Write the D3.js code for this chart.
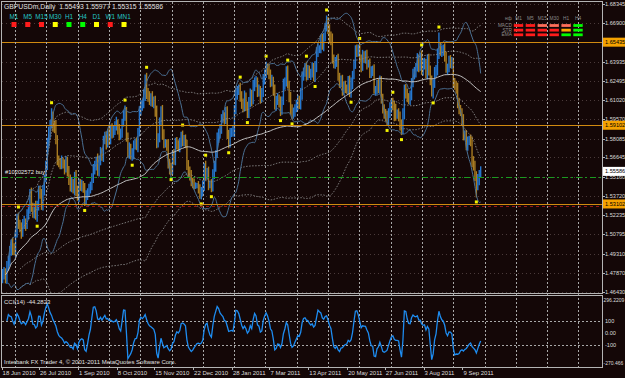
<!DOCTYPE html>
<html><head><meta charset="utf-8">
<script src="https://cdn.jsdelivr.net/npm/d3@7"></script>
<style>html,body{margin:0;padding:0;background:#140707;overflow:hidden}svg{display:block}</style>
</head><body>
<svg id="c" width="625" height="378"></svg>
<script>
// ---------------- DATA ----------------
const symbolTitle = "GBPUSDm,Daily  1.55493 1.55977 1.55315 1.55586";
const firstDate = "2010-06-18";            // first bar (weekday bars)
const firstOpen = 1.4745;
// daily closes, one per weekday bar
const closes = [
1.4780,
1.4790,1.4740,1.4830,1.4880,1.4950, 1.5010,1.4960,1.4950,1.5090,1.5200, 1.5160,1.5130,1.5090,1.5160,1.5170,
1.5150,1.5230,1.5270,1.5380,1.5280, 1.5240,1.5290,1.5220,1.5300,1.5420, 1.5380,1.5300,1.5420,1.5510,1.5600,
1.5780,1.5860,1.5920,1.5960,1.5900, 1.5890,1.5800,1.5650,1.5620,1.5610, 1.5630,1.5620,1.5580,1.5630,1.5560,
1.5500,1.5440,1.5470,1.5420,1.5520, 1.5410,1.5370,1.5470,1.5440,1.5450, 1.5430,1.5340,1.5370,1.5400,1.5430,
1.5450,1.5500,1.5580,1.5600,1.5640, 1.5560,1.5650,1.5700,1.5670,1.5800, 1.5820,1.5770,1.5850,1.5800,1.5880,
1.5850,1.5880,1.5900,1.5920,1.5880, 1.5840,1.5850,1.5930,1.5980,1.6000, 1.5820,1.5700,1.5740,1.5680,1.5690,
1.5760,1.5770,1.5750,1.5860,1.6020, 1.6060,1.6070,1.6140,1.6260,1.6150, 1.6130,1.6100,1.6120,1.6080,1.6100,
1.6010,1.5780,1.5810,1.5940,1.6010, 1.5840,1.5770,1.5770,1.5760,1.5620, 1.5580,1.5570,1.5690,1.5640,1.5780,
1.5760,1.5750,1.5770,1.5830,1.5790, 1.5800,1.5770,1.5600,1.5560,1.5530, 1.5480,1.5470,1.5450,1.5450,1.5450,
1.5420,1.5380,1.5410,1.5440,1.5590, 1.5530,1.5550,1.5460,1.5460,1.5440, 1.5540,1.5600,1.5690,1.5810,1.5850,
1.5880,1.5960,1.5980,1.5960,1.6010, 1.5840,1.5780,1.5850,1.5860,1.5860, 1.6030,1.6150,1.6170,1.6190,1.6130,
1.6080,1.6050,1.6130,1.6050,1.6000, 1.6090,1.6150,1.6100,1.6210,1.6240, 1.6240,1.6160,1.6180,1.6120,1.6160,
1.6260,1.6300,1.6350,1.6340,1.6300, 1.6240,1.6250,1.6180,1.6060,1.6100, 1.6110,1.6090,1.6020,1.6100,1.6220,
1.6240,1.6320,1.6220,1.6130,1.6030, 1.6000,1.6010,1.6040,1.6060,1.6100, 1.6070,1.6150,1.6280,1.6320,1.6350,
1.6290,1.6330,1.6300,1.6310,1.6350, 1.6280,1.6360,1.6460,1.6500,1.6500, 1.6560,1.6520,1.6580,1.6660,1.6700,
1.6640,1.6580,1.6560,1.6410,1.6380, 1.6390,1.6410,1.6280,1.6240,1.6250, 1.6180,1.6210,1.6190,1.6180,1.6250,
1.6160,1.6230,1.6290,1.6380,1.6480, 1.6470,1.6490,1.6420,1.6360,1.6440, 1.6420,1.6440,1.6380,1.6380,1.6310,
1.6320,1.6330,1.6180,1.6180,1.6220, 1.6190,1.6250,1.6120,1.6030,1.6000, 1.5980,1.5940,1.6010,1.6040,1.6080,
1.6060,1.6030,1.5990,1.6000,1.5980, 1.5910,1.5870,1.6000,1.6190,1.6150, 1.6120,1.6110,1.6130,1.6240,1.6300,
1.6310,1.6350,1.6420,1.6360,1.6430, 1.6330,1.6380,1.6380,1.6300,1.6410, 1.6330,1.6250,1.6160,1.6230,1.6310,
1.6330,1.6460,1.6500,1.6470,1.6480, 1.6490,1.6430,1.6340,1.6350,1.6400, 1.6380,1.6390,1.6240,1.6210,1.6190,
1.6080,1.6030,1.6010,1.5950,1.5830, 1.5830,1.5760,1.5790,1.5800,1.5790, 1.5630,1.5600,1.5530,1.5450,1.5493,
1.5530,1.55586];
// upper wick above max(open,close), in pips
const wickUpPips = [
35,
40,30,45,35,40, 30,45,50,25,35, 45,30,40,35,50, 30,40,35,45,55, 40,25,45,35,30, 30,45,35,25,40,
35,40,30,80,55, 45,60,35,30,40, 50,35,30,45,40, 40,35,45,30,35, 50,40,35,30,45, 35,40,45,30,35,
30,45,35,40,30, 55,30,45,35,30, 40,45,30,50,35, 45,30,40,55,35, 40,35,30,45,60, 50,35,40,30,45,
35,40,45,30,35, 40,30,45,38,50, 45,40,35,50,30, 35,50,40,30,45, 55,40,35,30,45, 35,45,30,40,35,
40,35,45,30,40, 35,40,30,45,35, 40,30,35,25,20, 35,40,30,45,30, 50,35,45,30,40, 35,40,30,45,35,
40,35,45,30,40, 45,35,40,30,50, 35,45,40,30,45, 40,35,45,30,40, 35,40,30,45,35, 45,35,40,30,35,
40,35,45,30,40, 35,45,30,40,35, 45,35,40,30,45, 35,40,45,30,35, 40,35,30,45,40, 35,45,40,30,35,
45,40,35,30,40, 35,40,45,35,20, 40,45,35,30,47, 35,40,45,50,40, 40,35,45,30,40, 45,35,40,30,35,
40,45,35,30,40, 45,35,40,30,45, 35,40,45,30,40, 40,35,45,30,35, 45,40,35,30,40, 35,40,30,45,35,
40,35,45,30,40, 35,45,40,30,35, 40,35,45,30,40, 45,35,40,30,35, 50,40,45,35,40, 45,35,40,30,45,
40,35,117,45,40, 35,45,40,30,40, 45,40,35,30,40, 45,40,35,30,45, 40,45,35,30,40, 35,45,40,30,45,
40,39];
// lower wick below min(open,close), in pips
const wickDnPips = [
40,
45,35,40,30,45, 35,40,30,45,35, 40,35,45,30,40, 45,30,40,35,30, 35,40,30,45,40, 30,35,40,45,35,
30,40,45,35,40, 40,35,45,30,35, 35,40,45,30,40, 45,35,40,30,45, 40,35,45,30,35, 35,45,40,30,35,
40,35,30,45,35, 35,40,45,30,40, 35,45,30,40,35, 40,35,45,30,40, 45,40,35,30,35, 35,40,45,30,40,
40,35,30,45,35, 35,40,30,45,40, 40,35,45,30,40, 35,45,40,30,35, 40,35,30,45,40, 45,40,35,30,35,
35,40,45,30,40, 40,35,30,45,40, 35,40,30,25,20, 30,30,35,40,30, 40,35,45,30,40, 35,40,45,30,35,
40,35,30,45,40, 35,45,40,30,35, 40,35,45,30,40, 45,40,35,30,35, 35,40,45,30,40, 40,35,30,45,35,
35,40,30,45,40, 40,35,45,30,40, 35,45,40,30,35, 40,35,30,45,40, 45,40,35,30,35, 35,40,45,30,40,
40,35,30,45,35, 35,40,45,30,40, 40,35,45,30,35, 35,45,40,30,35, 40,35,30,45,40, 45,40,35,30,35,
35,40,45,30,40, 40,35,30,45,35, 35,40,45,30,40, 40,35,30,45,35, 35,40,45,30,40, 40,35,30,45,35,
35,90,45,30,40, 40,35,30,45,35, 35,40,45,30,40, 40,35,30,45,35, 35,40,45,30,40, 40,35,30,45,35,
35,40,45,30,40, 40,35,30,45,35, 35,40,45,30,40, 40,35,30,45,35, 35,40,45,30,40, 40,35,45,90,35,
40,18];

const priceTicks = [1.68345,1.66900,1.65435,1.63935,1.62495,1.61020,1.59570,1.58085,1.56645,1.55160,1.53720,1.52235,1.50795,1.49310,1.47870,1.46430];
const priceRange = [1.46430, 1.68345];
const levelLines = [1.65435, 1.59102, 1.53102];   // orange S/R levels
const orderLevel = 1.55160, orderLabel = "#10202572 buy";
const stopLevel = 1.52920;
const bidPrice = 1.55586;

const dateLabels = ["18 Jun 2010","26 Jul 2010","1 Sep 2010","8 Oct 2010","15 Nov 2010","22 Dec 2010","28 Jan 2011","7 Mar 2011","13 Apr 2011","20 May 2011","27 Jun 2011","3 Aug 2011","9 Sep 2011"];

const cciPeriod = 14;
const cciRange = [-270.466, 296.2209];
const cciTicks = [100, 0, -100];
const cciTitle = "CCI(14) -44.2823";
const footer = "Interbank FX Trader 4, \u00A9 2001-2011 MetaQuotes Software Corp.";

const tfLabels = ["M1","M5","M15","M30","H1","H4","D1","W1","MN1"];
const tfState  = ["red","red","red","yellow","green","green","yellow","red","yellow"];
const tblCols = ["M1","M5","M15","M30","H1","H4"];
const tblRows = ["MACD","STR","EMA"];
const tblState = [
  ["red","red","weak","weak","weak","green"],
  ["red","red","red","red","orange","green"],
  ["red","red","red","red","green","green"]];

// ---------------- LAYOUT ----------------
const L = 2, R = 602, T = 2, MB = 293, CT = 296, CB = 367;
const barStep = 1.44, x0 = 2.6;
const stateColor = {red:"#ff1c1c", yellow:"#ffff00", green:"#00ff00", weak:"#ff6e5a", orange:"#ffa500"};
const FONT = "'Liberation Sans', Arial, sans-serif";

const svg = d3.select("#c");
svg.append("rect").attr("width",625).attr("height",378).attr("fill","#140707");

const n = closes.length;
const opens = closes.map((c,i)=> i===0 ? firstOpen : closes[i-1]);
const highs = closes.map((c,i)=> Math.max(opens[i],c) + wickUpPips[i]/10000);
const lows  = closes.map((c,i)=> Math.min(opens[i],c) - wickDnPips[i]/10000);

const x = d3.scaleLinear().domain([0, n-1]).range([x0, x0 + (n-1)*barStep]);
const y = d3.scaleLinear().domain(priceRange).range([291.5, 4]);
const yc = d3.scaleLinear().domain(cciRange).range([CB-1, CT+1]);

// date -> bar index (weekday count)
const parse = d3.utcParse("%d %b %Y");
const d0 = d3.utcParse("%Y-%m-%d")(firstDate);
function barIndex(d){ return d3.utcDays(d0, d).filter(t=>{const w=t.getUTCDay();return w>0&&w<6;}).length; }

// clip paths
const defs = svg.append("defs");
defs.append("clipPath").attr("id","cm").append("rect").attr("x",L).attr("y",T).attr("width",R-L).attr("height",MB-T);
defs.append("clipPath").attr("id","cc").append("rect").attr("x",L).attr("y",CT).attr("width",R-L).attr("height",CB-CT);

// horizontal faint grid (main)
const gMain = svg.append("g").attr("clip-path","url(#cm)");
gMain.selectAll("line.hg").data(priceTicks).join("line")
  .attr("x1",L).attr("x2",R).attr("y1",d=>Math.round(y(d))+0.5).attr("y2",d=>Math.round(y(d))+0.5)
  .attr("stroke","#4a3a3a").attr("stroke-width",1).attr("stroke-dasharray","1,3");

// vertical dotted grid (both panels)
const gridX = d3.range(0, 19).map(k => 15 + k*31.3);
svg.append("g").selectAll("line").data(gridX).join("line")
  .attr("x1",d=>Math.round(d)+0.5).attr("x2",d=>Math.round(d)+0.5).attr("y1",T).attr("y2",CB)
  .attr("stroke","#a8a8a8").attr("stroke-width",1).attr("stroke-dasharray","2,2");
svg.append("g").selectAll("line").data(cciTicks.filter(v=>v!==0)).join("line")
  .attr("x1",L).attr("x2",R).attr("y1",d=>Math.round(yc(d))+0.5).attr("y2",d=>Math.round(yc(d))+0.5)
  .attr("stroke","#a8a8a8").attr("stroke-width",1).attr("stroke-dasharray","2,2");

// ---------- indicators ----------
function sma(a,p){return a.map((_,i)=>d3.mean(a.slice(Math.max(0,i-p+1),i+1)));}
function sdev(a,p){return a.map((_,i)=>{const w=a.slice(Math.max(0,i-p+1),i+1);const m=d3.mean(w);return Math.sqrt(d3.mean(w,v=>(v-m)*(v-m)));});}
const idx = d3.range(n);
function lineOf(vals, from){ return d3.line().curve(d3.curveMonotoneX).x(i=>x(i)).y(i=>y(vals[i]))(idx.filter(i=>i>=from)); }

// bars
const gBars = gMain.append("g");
gBars.selectAll("line").data(idx).join("line")
  .attr("x1",i=>x(i)).attr("x2",i=>x(i))
  .attr("y1",i=>y(highs[i])).attr("y2",i=>y(lows[i]))
  .attr("stroke",i=> closes[i]>=opens[i] ? "#2577cf" : "#a87c22")
  .attr("stroke-width",1.4);

// long channel: SMA(100) with +-1 and +-2 deviation dotted lines
const m100 = sma(closes,100), s100 = sdev(closes,100);
[2,1,-1,-2].forEach(k=>{
  gMain.append("path").attr("d",lineOf(closes.map((_,i)=>m100[i]+k*s100[i]),12))
    .attr("fill","none").attr("stroke","#8a8a8a").attr("stroke-width",0.9).attr("stroke-dasharray","1.5,1.5");
});
// Bollinger 20,2
const m20 = sma(closes,20), s20 = sdev(closes,20);
[2,-2].forEach(k=>{
  gMain.append("path").attr("d",lineOf(closes.map((_,i)=>m20[i]+k*s20[i]),4))
    .attr("fill","none").attr("stroke","#4a7094").attr("stroke-width",1);
});
// white MA (100)
gMain.append("path").attr("d",lineOf(m100,2)).attr("fill","none").attr("stroke","#c4c4c4").attr("stroke-width",1);

// fractals
const fw = 5, frUp = [], frDn = [];
for(let i=fw;i<n-2;i++){
  let up=true, dn=true;
  for(let j=1;j<=fw;j++){
    if(!(highs[i]>highs[i-j]&&(i+j>=n||highs[i]>=highs[i+j]))) up=false;
    if(!(lows[i]<lows[i-j]&&(i+j>=n||lows[i]<=lows[i+j]))) dn=false;
  }
  if(up) frUp.push(i); if(dn) frDn.push(i);
}
gMain.append("g").selectAll("rect.fu").data(frUp).join("rect")
  .attr("x",i=>x(i)-1.5).attr("y",i=>y(highs[i])-7).attr("width",3).attr("height",3).attr("fill","#f2f200");
gMain.append("g").selectAll("rect.fd").data(frDn).join("rect")
  .attr("x",i=>x(i)-1.5).attr("y",i=>y(lows[i])+3).attr("width",3).attr("height",3).attr("fill","#f2f200");

// level lines
gMain.selectAll("line.lv").data(levelLines).join("line")
  .attr("x1",L).attr("x2",R).attr("y1",d=>Math.round(y(d))+0.5).attr("y2",d=>Math.round(y(d))+0.5)
  .attr("stroke","#d08a10").attr("stroke-width",1);
gMain.append("line").attr("x1",L).attr("x2",R).attr("y1",Math.round(y(orderLevel))+0.5).attr("y2",Math.round(y(orderLevel))+0.5)
  .attr("stroke","#1a9a1f").attr("stroke-width",1.2).attr("stroke-dasharray","6,3,2,3");
gMain.append("line").attr("x1",L).attr("x2",R).attr("y1",Math.round(y(stopLevel))+0.5).attr("y2",Math.round(y(stopLevel))+0.5)
  .attr("stroke","#961818").attr("stroke-width",1).attr("stroke-dasharray","3,3");
svg.append("text").attr("x",5).attr("y",y(orderLevel)-3).text(orderLabel)
  .attr("fill","#e8e8e8").attr("font-family",FONT).attr("font-size",5.8);

// CCI
const tp = idx.map(i=>(highs[i]+lows[i]+closes[i])/3);
const tpMa = sma(tp,cciPeriod);
const cci = idx.map(i=>{const w=tp.slice(Math.max(0,i-cciPeriod+1),i+1);const md=d3.mean(w,v=>Math.abs(v-tpMa[i]));return md>0?(tp[i]-tpMa[i])/(0.015*md):0;});
svg.append("g").attr("clip-path","url(#cc)").append("path")
  .attr("d",d3.line().x(i=>x(i)).y(i=>yc(Math.max(cciRange[0],Math.min(cciRange[1],cci[i]))))(idx.filter(i=>i>=3)))
  .attr("fill","none").attr("stroke","#1e8cf0").attr("stroke-width",1.3);

// frames
const fr = svg.append("g").attr("fill","none").attr("stroke","#b4b4b4").attr("stroke-width",1);
fr.append("rect").attr("x",L-0.5).attr("y",T-0.5).attr("width",R-L+1).attr("height",MB-T+1);
fr.append("rect").attr("x",L-0.5).attr("y",CT-0.5).attr("width",R-L+1).attr("height",CB-CT+1);

// price axis labels
const ga = svg.append("g").attr("font-family",FONT).attr("font-size",5.6);
ga.selectAll("line").data(priceTicks).join("line")
  .attr("x1",R).attr("x2",R+3).attr("y1",d=>Math.round(y(d))+0.5).attr("y2",d=>Math.round(y(d))+0.5).attr("stroke","#b4b4b4");
ga.selectAll("text").data(priceTicks).join("text")
  .attr("x",605).attr("y",d=>y(d)+2).text(d=>d.toFixed(5)).attr("fill","#dcdcdc");
// level label boxes
const boxes = levelLines.map(v=>({v,bg:"#f5a200",fg:"#000"})).concat([{v:bidPrice,bg:"#ffffff",fg:"#000"}]);
const gb = svg.append("g").attr("font-family",FONT).attr("font-size",5.6);
gb.selectAll("rect").data(boxes).join("rect").attr("x",603).attr("y",d=>y(d.v)-4.5).attr("width",22).attr("height",9).attr("fill",d=>d.bg);
gb.selectAll("text").data(boxes).join("text").attr("x",605).attr("y",d=>y(d.v)+2).text(d=>d.v.toFixed(5)).attr("fill",d=>d.fg);

// CCI axis labels
const cciLbl = [cciRange[1],100,0,-100,cciRange[0]];
const gca = svg.append("g").attr("font-family",FONT).attr("fill","#dcdcdc");
gca.selectAll("text").data(cciLbl).join("text").attr("x",d=> (d===cciRange[1]||d===cciRange[0]) ? 603.5 : 605)
  .attr("font-size",d=> (d===cciRange[1]||d===cciRange[0]) ? 5.0 : 5.6)
  .attr("y",d=> d===cciRange[1] ? CT+5.5 : d===cciRange[0] ? CB-2 : yc(d)+2)
  .text(d=> d===cciRange[1] ? "296.2209" : d===cciRange[0] ? "-270.466" : d===0 ? "0.00" : String(d));

// date labels
const gd = svg.append("g").attr("font-family",FONT).attr("font-size",6).attr("fill","#dcdcdc");
gd.selectAll("text").data(dateLabels).join("text")
  .attr("x",d=>x(barIndex(parse(d)))).attr("y",375).text(d=>d);
gd.selectAll("line").data(dateLabels).join("line")
  .attr("x1",d=>Math.round(x(barIndex(parse(d))))-0.5).attr("x2",d=>Math.round(x(barIndex(parse(d))))-0.5)
  .attr("y1",CB).attr("y2",CB+3).attr("stroke","#b4b4b4");

// titles
svg.append("text").attr("x",4).attr("y",9).text(symbolTitle).attr("fill","#e0e0e0").attr("font-family",FONT).attr("font-size",6.8).style("white-space","pre");
svg.append("text").attr("x",4).attr("y",304).text(cciTitle).attr("fill","#e0e0e0").attr("font-family",FONT).attr("font-size",6);
svg.append("text").attr("x",4).attr("y",364).text(footer).attr("fill","#e0e0e0").attr("font-family",FONT).attr("font-size",6);

// timeframe signal squares
const tx = d3.scalePoint().domain(tfLabels).range([14,124]);
const gtf = svg.append("g").attr("font-family",FONT).attr("font-size",6.4);
gtf.selectAll("text").data(tfLabels).join("text").attr("x",d=>tx(d)).attr("y",19).attr("text-anchor","middle").attr("fill","#22c6c6").text(d=>d);
gtf.selectAll("rect").data(tfLabels).join("rect").attr("x",d=>tx(d)-2.5).attr("y",22).attr("width",5).attr("height",5).attr("fill",(d,i)=>stateColor[tfState[i]]);

// right signal table
const cx = d3.scalePoint().domain(tblCols).range([518.5,578]);
const ry = d3.scalePoint().domain(tblRows).range([25.5,34.8]);
const gt = svg.append("g").attr("font-family",FONT).attr("font-size",4.8).attr("fill","#8a8a8a");
gt.append("text").attr("x",505).attr("y",20).text("нф");
gt.selectAll("text.c").data(tblCols).join("text").attr("class","c").attr("x",d=>cx(d)).attr("y",20).attr("text-anchor","middle").text(d=>d);
gt.selectAll("text.r").data(tblRows).join("text").attr("class","r").attr("x",512).attr("y",d=>ry(d)+1.6).attr("text-anchor","end").text(d=>d);
tblRows.forEach((r,ri)=>{
  gt.append("g").selectAll("rect").data(tblCols).join("rect")
    .attr("x",c=>cx(c)-4.7).attr("y",ry(r)-1.4).attr("width",9.4).attr("height",2.8)
    .attr("fill",(c,ci)=>stateColor[tblState[ri][ci]]);
});
</script>
</body></html>
